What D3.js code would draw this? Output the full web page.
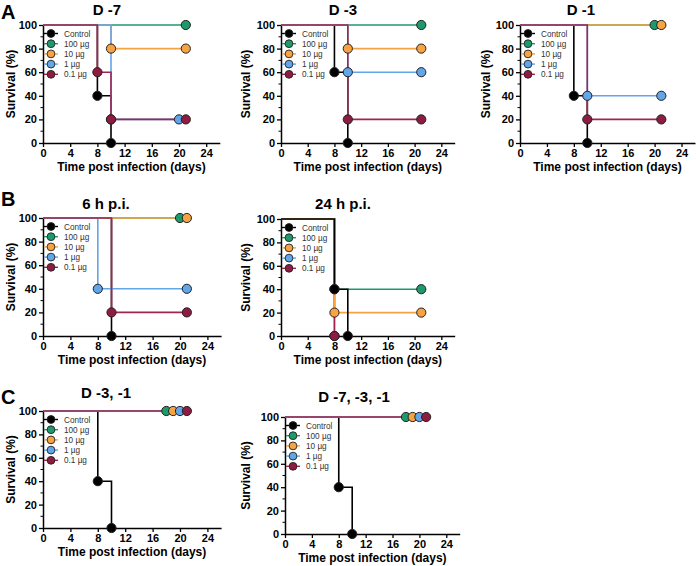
<!DOCTYPE html>
<html><head><meta charset="utf-8">
<script src="https://cdn.jsdelivr.net/npm/d3@7"></script>
<style>body{margin:0;background:#fff}svg{display:block}</style>
</head><body>
<script>
// ---------- DATA ----------
const seriesNames = ["Control", "100 µg", "10 µg", "1 µg", "0.1 µg"];
const panelTitles = ["D -7", "D -3", "D -1", "6 h p.i.", "24 h p.i.", "D -3, -1", "D -7, -3, -1"];
const panelLetters = ["A", "B", "C"];
const xTicks = [0, 4, 8, 12, 16, 20, 24];
const yTicks = [0, 20, 40, 60, 80, 100];
const yMinorTicks = [10, 30, 50, 70, 90];
const xLabel = "Time post infection (days)";
const yLabel = "Survival (%)";

// survival curves: [day, % survival]; series order = seriesNames
const survDm7 = [
  [[0,100],[8,40],[10,0]],
  [[0,100],[21,100]],
  [[0,100],[10,80],[21,80]],
  [[0,100],[10,20],[20,20]],
  [[0,100],[8,60],[10,20],[21,20]]
];
const survDm3 = [
  [[0,100],[8,60],[10,0]],
  [[0,100],[21,100]],
  [[0,100],[10,80],[21,80]],
  [[0,100],[10,60],[21,60]],
  [[0,100],[10,20],[21,20]]
];
const survDm1 = [
  [[0,100],[8,40],[10,0]],
  [[0,100],[20,100]],
  [[0,100],[21,100]],
  [[0,100],[10,40],[21,40]],
  [[0,100],[10,20],[21,20]]
];
const surv6h = [
  [[0,100],[10,0]],
  [[0,100],[20,100]],
  [[0,100],[21,100]],
  [[0,100],[8,40],[21,40]],
  [[0,100],[10,20],[21,20]]
];
const surv24h = [
  [[0,100],[8,40],[10,0]],
  [[0,100],[8,40],[21,40]],
  [[0,100],[8,20],[21,20]],
  [[0,100],[8,0]],
  [[0,100],[8,0]]
];
const survDm3m1 = [
  [[0,100],[8,40],[10,0]],
  [[0,100],[18,100]],
  [[0,100],[19,100]],
  [[0,100],[20,100]],
  [[0,100],[21,100]]
];
const survDm7m3m1 = [
  [[0,100],[8,40],[10,0]],
  [[0,100],[18,100]],
  [[0,100],[19,100]],
  [[0,100],[20,100]],
  [[0,100],[21,100]]
];
const panelData = [survDm7, survDm3, survDm1, surv6h, surv24h, survDm3m1, survDm7m3m1];

// ---------- STYLE / LAYOUT ----------
const colors = ["#000000", "#1d9a6c", "#f7a343", "#62a6ea", "#8e1b40"];
const lineColors = ["#000000", "#1d9a6c", "#f7a343", "#62a6ea", "#a0264f"];
const defaultOrder = [0, 1, 2, 3, 4];
const drawOrders = [defaultOrder, defaultOrder, defaultOrder, defaultOrder, [3, 4, 1, 2, 0], defaultOrder, defaultOrder];
const layout = [
  {left:43,  pxDay:6.8,  top:25,  bottom:143, titleX:107, titleY:15,  ylabX:15},
  {left:281, pxDay:6.68, top:25,  bottom:143, titleX:343, titleY:15,  ylabX:250},
  {left:520, pxDay:6.73, top:25,  bottom:143, titleX:581, titleY:15,  ylabX:490},
  {left:43,  pxDay:6.85, top:218, bottom:336, titleX:106, titleY:209, ylabX:15},
  {left:281, pxDay:6.68, top:219, bottom:336, titleX:343, titleY:209, ylabX:250},
  {left:43,  pxDay:6.85, top:411, bottom:528, titleX:106, titleY:398, ylabX:15},
  {left:285, pxDay:6.72, top:417, bottom:534, titleX:354, titleY:402, ylabX:250}
];
const letterPos = [[1,19],[1,206],[1,404]];
const FONT = "Arial, 'Liberation Sans', Helvetica, sans-serif";

const W = 696, H = 566;
const svg = d3.select("body").append("svg").attr("width", W).attr("height", H)
  .style("font-family", FONT);

panelLetters.forEach((l, i) => {
  svg.append("text").attr("x", letterPos[i][0]).attr("y", letterPos[i][1])
    .attr("font-size", 20).attr("font-weight", "bold").attr("fill", "#000").text(l);
});

panelData.forEach((data, p) => {
  const L = layout[p];
  const xMax = 26;
  const x = d3.scaleLinear().domain([0, xMax]).range([L.left, L.left + xMax * L.pxDay]);
  const y = d3.scaleLinear().domain([0, 100]).range([L.bottom, L.top]);
  const g = svg.append("g");

  // title
  g.append("text").attr("x", L.titleX).attr("y", L.titleY).attr("text-anchor", "middle")
    .attr("font-size", 15).attr("font-weight", "bold").text(panelTitles[p]);

  // x axis
  const xAxis = d3.axisBottom(x).tickValues(xTicks).tickSize(4).tickPadding(2).tickSizeOuter(0);
  const gx = g.append("g").attr("transform", `translate(0,${L.bottom})`).call(xAxis);
  gx.select(".domain").attr("stroke", "#000").attr("stroke-width", 1.5);
  gx.selectAll(".tick line").attr("stroke", "#000").attr("stroke-width", 1.3);
  gx.selectAll(".tick text").attr("font-size", 11).attr("font-weight", "bold")
    .attr("font-family", FONT).attr("fill", "#000");

  // y axis
  const yAxis = d3.axisLeft(y).tickValues(yTicks).tickSize(4).tickPadding(2).tickSizeOuter(0);
  const gy = g.append("g").attr("transform", `translate(${L.left},0)`).call(yAxis);
  gy.select(".domain").attr("stroke", "#000").attr("stroke-width", 1.5);
  gy.selectAll(".tick line").attr("stroke", "#000").attr("stroke-width", 1.3);
  gy.selectAll(".tick text").attr("font-size", 11).attr("font-weight", "bold")
    .attr("font-family", FONT).attr("fill", "#000");
  g.append("g").selectAll("line").data(yMinorTicks).join("line")
    .attr("x1", L.left - 2.5).attr("x2", L.left).attr("y1", d => y(d)).attr("y2", d => y(d))
    .attr("stroke", "#000").attr("stroke-width", 1);

  // axis labels
  g.append("text").attr("x", (x(0) + x(xMax)) / 2).attr("y", L.bottom + 28)
    .attr("text-anchor", "middle").attr("font-size", 12).attr("font-weight", "bold").text(xLabel);
  g.append("text").attr("transform", `translate(${L.ylabX},${(L.top + L.bottom) / 2}) rotate(-90)`)
    .attr("text-anchor", "middle").attr("font-size", 12).attr("font-weight", "bold").text(yLabel);

  // legend
  const lg = g.append("g");
  seriesNames.forEach((name, i) => {
    const ly = L.top + 8.5 + i * 10.2;
    const mx = L.left + 8;
    lg.append("line").attr("x1", mx - 7).attr("x2", mx + 7).attr("y1", ly).attr("y2", ly)
      .attr("stroke", lineColors[i]).attr("stroke-width", 1.4);
    lg.append("circle").attr("cx", mx).attr("cy", ly).attr("r", 3.9)
      .attr("fill", colors[i]).attr("stroke", "#222").attr("stroke-width", 0.9);
    lg.append("text").attr("x", L.left + 21).attr("y", ly + 3).attr("font-size", 8.2)
      .attr("fill", "#333").text(name);
  });

  // step lines
  const line = d3.line().x(d => x(d[0])).y(d => y(d[1])).curve(d3.curveStepAfter);
  const order = drawOrders[p];
  order.forEach(i => {
    g.append("path").attr("d", line(data[i])).attr("fill", "none")
      .attr("stroke", lineColors[i]).attr("stroke-width", 1.6);
  });
  // markers
  order.forEach(i => {
    g.append("g").selectAll("circle").data(data[i].slice(1)).join("circle")
      .attr("cx", d => x(d[0])).attr("cy", d => y(d[1])).attr("r", 4.6)
      .attr("fill", colors[i]).attr("stroke", "#222").attr("stroke-width", 1);
  });
});
</script>
</body></html>
